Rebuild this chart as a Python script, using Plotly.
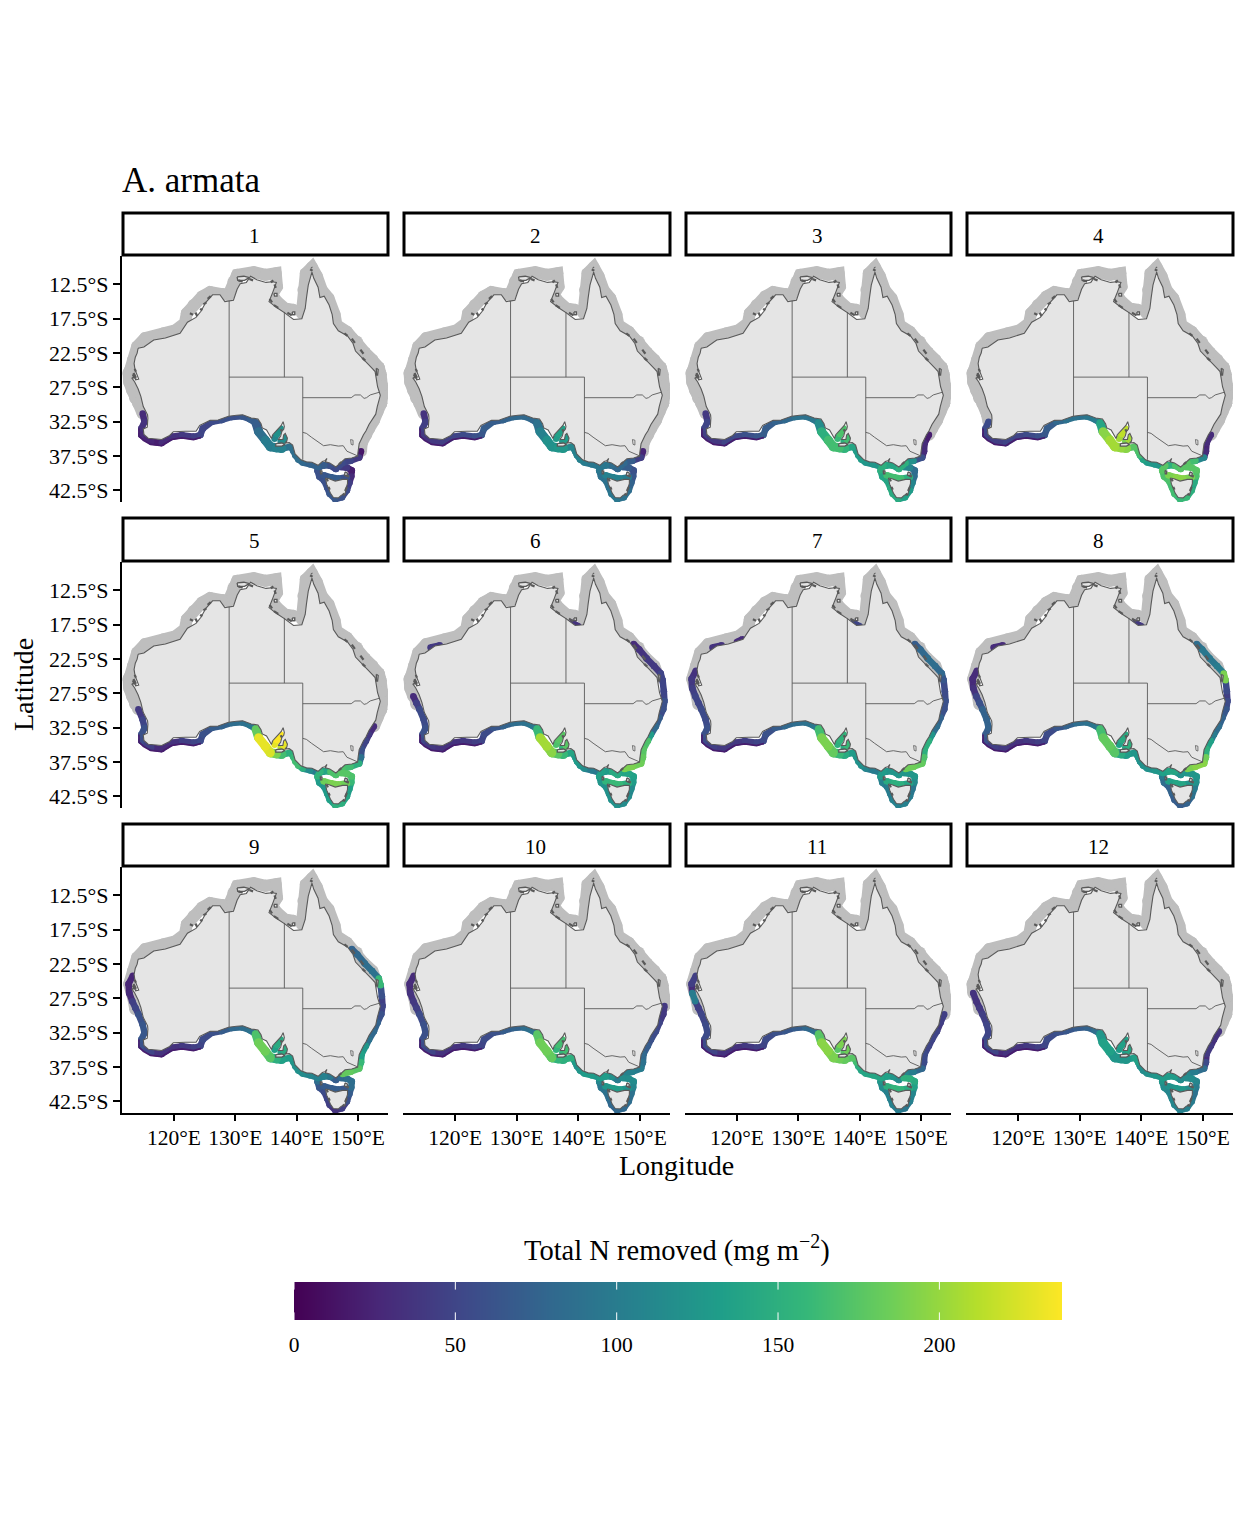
import plotly.graph_objects as go
from plotly.colors import sample_colorscale

W, H = 1248, 1536
NA = None
FONT = "Liberation Serif"

# Land outline (mainland, clockwise from NW Cape), Tasmania after the break
coast_lon = [114.15,114.0,113.7,113.5,113.65,113.9,114.25,113.75,113.6,113.15,113.6,114.15,114.6,115.0,115.7,115.75,115.65,115.0,115.1,115.8,116.6,118.0,119.3,119.9,121.9,123.6,124.2,125.9,127.2,128.9,130.2,131.2,132.6,133.7,134.2,134.4,135.1,135.6,135.9,136.1,136.9,137.5,137.8,138.0,137.9,137.6,137.4,137.0,137.75,137.9,138.15,138.5,138.4,138.1,138.8,139.35,139.75,140.7,141.6,142.5,143.5,144.2,144.6,144.95,144.7,145.4,146.4,146.9,147.9,149.0,149.95,150.0,150.2,150.9,151.3,151.8,152.9,153.15,153.65,153.2,153.0,152.8,152.4,151.3,150.8,149.6,149.2,148.3,146.8,146.0,145.8,145.3,144.5,143.8,143.5,142.8,142.5,141.9,141.6,141.4,140.85,139.5,138.0,136.8,135.5,135.6,136.0,136.7,136.0,135.0,133.5,132.5,131.8,130.8,130.3,129.7,128.3,127.5,126.3,125.2,124.4,123.6,122.2,121.0,118.6,116.7,115.1,114.15,NA,144.7,145.3,146.3,146.8,147.5,148.3,148.3,148.1,147.9,147.3,146.8,146.0,145.5,145.2,144.9,144.7]
coast_lat = [-21.8,-22.5,-23.1,-24.0,-24.9,-25.4,-26.3,-26.4,-25.9,-26.15,-26.7,-27.7,-28.8,-30.3,-31.5,-32.0,-33.3,-33.55,-34.35,-34.9,-35.0,-35.1,-34.5,-33.95,-33.9,-33.9,-33.05,-32.3,-32.25,-31.7,-31.55,-31.5,-31.95,-32.1,-32.8,-33.4,-33.7,-34.5,-34.95,-34.4,-33.7,-33.05,-32.5,-33.2,-33.6,-33.9,-34.6,-35.1,-35.1,-34.4,-34.2,-34.9,-35.35,-35.6,-35.55,-35.9,-37.2,-38.05,-38.35,-38.4,-38.85,-38.3,-38.2,-37.85,-38.35,-38.5,-39.1,-38.7,-37.9,-37.8,-37.5,-37.0,-35.7,-34.4,-33.85,-32.9,-31.4,-30.3,-28.65,-27.4,-25.9,-25.2,-24.8,-23.8,-23.2,-22.2,-21.1,-20.0,-19.25,-18.2,-16.9,-15.5,-14.2,-14.4,-12.9,-11.6,-10.7,-12.6,-14.5,-16.0,-17.5,-17.6,-16.6,-15.9,-15.0,-14.8,-13.9,-12.2,-12.1,-12.2,-11.8,-11.3,-12.2,-12.4,-13.2,-14.8,-15.0,-14.0,-14.0,-15.1,-16.4,-17.3,-18.0,-19.6,-20.3,-20.6,-21.6,-21.8,NA,-40.7,-40.8,-41.15,-41.0,-40.9,-40.9,-41.5,-42.1,-43.0,-43.2,-43.6,-43.55,-42.9,-42.2,-41.6,-40.7]

# Larger islands, drawn like the land
island_lon = [130.3,131.4,132.3,131.5,130.4,130.3,NA,136.3,136.8,136.8,136.4,136.3,NA,139.3,139.7,139.7,139.3,139.3,NA,136.6,137.6,138.1,137.6,136.6,136.6,NA,143.85,144.15,144.1,143.9,143.85,NA,147.9,148.3,148.2,147.8,147.9,NA,148.0,148.5,148.4,148.0,NA,153.0,153.3,153.2,153.0,153.0]
island_lat = [-11.4,-11.3,-11.5,-11.9,-11.9,-11.4,NA,-13.8,-13.8,-14.2,-14.2,-13.8,NA,-16.5,-16.5,-16.9,-16.9,-16.5,NA,-35.7,-35.6,-35.8,-36.05,-36.05,-35.7,NA,-39.6,-39.7,-40.1,-40.1,-39.6,NA,-39.8,-40.0,-40.4,-40.3,-39.8,NA,-40.4,-40.35,-40.55,-40.4,NA,-24.7,-24.9,-25.7,-25.7,-24.7]

# Short dark strokes where the coast is too broken to outline
clutter_lon = [124.6,124.3,NA,124.8,125.3,NA,125.5,126.0,NA,123.5,123.8,NA,122.6,123.1,NA,135.8,136.2,NA,136.4,136.6,NA,135.6,136.0,NA,136.3,137.0,NA,138.5,139.2,NA,149.0,149.5,NA,150.4,150.9,NA,150.7,151.2,NA,147.8,148.3,NA,113.4,113.8,NA,113.6,113.8,NA,113.3,113.6,NA,146.9,147.3,NA,147.5,147.9,NA,147.9,148.2,NA,145.2,145.4,NA,144.9,145.1,NA,130.5,131.2,NA,132.3,132.9,NA,142.2,142.6,NA,142.4,142.5,NA,137.4,137.6]
clutter_lat = [-16.3,-16.0,NA,-15.4,-15.1,NA,-14.6,-14.2,NA,-16.6,-17.1,NA,-16.7,-16.9,NA,-12.2,-11.9,NA,-12.5,-13.0,NA,-14.6,-15.1,NA,-15.5,-15.9,NA,-16.6,-17.0,NA,-20.4,-21.0,NA,-22.0,-22.6,NA,-23.2,-23.6,NA,-19.6,-20.0,NA,-25.4,-26.1,NA,-24.8,-25.2,NA,-25.6,-26.2,NA,-38.7,-38.4,NA,-43.0,-43.2,NA,-42.6,-42.0,NA,-42.0,-42.4,NA,-40.8,-41.2,NA,-11.9,-12.1,NA,-11.7,-11.9,NA,-10.3,-10.5,NA,-10.0,-10.1,NA,-33.6,-33.9]

# Capital territory and state lines
act_lon = [148.8,149.2,149.2,148.9,148.8]
act_lat = [-35.1,-35.2,-35.9,-35.8,-35.1]
border_lon = [129,129,NA,129,141,NA,138,138,NA,141,141,NA,141,148.9,149.5,150.4,151,151.4,152,153.5,NA,141,141.6,142.4,143.3,144.4,145.5,146.8,147.6,148.2,150.0]
border_lat = [-14.9,-31.7,NA,-26,-26,NA,-16.5,-26,NA,-26,-38.05,NA,-29,-29,-28.6,-28.6,-29.1,-29.0,-28.6,-28.2,NA,-34.05,-34.2,-34.75,-35.3,-36.0,-35.85,-36.05,-36.0,-36.8,-37.5]

# Always unsampled northern shelf, Fraser Is. round to the Shark Bay coast
north_lon = [153.06,152.35,150.9,149.8,148.2,146.5,146.2,145.2,144.1,143.3,142.5,141.5,141.1,141.1,140.85,NA,139.5,138.1,136.8,136.0,136.8,136.6,134.9,133.0,130.3,129.7,128.9,127.8,125.9,124.6,123.2,122.1,121.8,120.2,118.3,115.3,114.0,113.3,112.7,113.4,113.7]
north_lat = [-25.2,-23.5,-22.3,-20.8,-19.4,-18.4,-16.9,-14.5,-13.3,-11.3,-10.0,-10.9,-13.3,-15.7,-16.7,NA,-16.2,-16.0,-15.0,-14.0,-12.8,-10.85,-11.1,-10.7,-11.1,-12.1,-14.0,-13.9,-13.6,-14.25,-15.5,-16.7,-18.1,-19.2,-19.6,-20.3,-21.55,-23.5,-25.4,-27.6,-29.1]

# Low values along the outer edge of the south-west coast
fringe_lon = [114.3,114.3,115.0,116.2,118.0,119.6,121.3,123.2,124.4]
fringe_lat = [-33.5,-34.6,-35.2,-35.8,-36.0,-35.1,-34.85,-35.1,-34.8]
fringe_value = 18

# Sampled band: west 10, south 15, SA 8, Vic 8, NSW 9, Qld 6, Tas ring 14, Bass inner 4, gulfs 3+3, north spots 2+2+2
band_lon = [113.3,112.6,112.7,113.2,113.7,114.2,114.9,115.2,114.7,114.7,
            116.3,118.0,119.7,121.3,123.2,124.3,124.7,126.2,127.8,129.4,131.1,132.4,133.4,133.8,134.9,
            135.7,136.7,137.6,139.0,139.5,139.8,140.3,141.0,
            142.2,143.5,144.5,145.5,146.4,147.5,148.8,150.2,
            150.5,150.6,151.3,151.8,152.6,153.2,153.8,154.0,153.9,
            153.7,153.4,152.3,151.1,149.9,149.0,NA,
            143.9,143.4,143.7,144.5,145.0,145.4,146.3,147.4,148.2,148.6,148.9,149.0,148.2,147.2,NA,
            144.4,145.6,146.8,148.2,NA,
            136.4,136.8,137.4,NA,137.4,138.0,138.3,NA,
            139.0,140.0,NA,120.9,120.0,NA,116.0,117.5]
band_lat = [-24.2,-25.4,-26.7,-27.9,-28.85,-29.8,-31.3,-32.5,-33.5,-34.45,
            -35.4,-35.6,-34.7,-34.45,-34.7,-34.45,-33.5,-32.5,-32.25,-31.8,-31.7,-32.15,-32.75,-33.95,-35.2,
            -36.15,-36.3,-36.4,-36.15,-36.8,-37.4,-38.0,-38.45,
            -38.7,-39.1,-38.85,-38.9,-39.4,-38.5,-38.2,-37.7,
            -36.8,-35.6,-34.4,-33.5,-32.3,-31.0,-29.8,-28.6,-27.2,
            -25.6,-24.6,-23.5,-22.4,-21.1,-20.3,NA,
            -38.9,-39.6,-40.5,-41.1,-42.1,-43.0,-43.8,-43.5,-42.5,-41.4,-40.5,-39.6,-39.2,-39.1,NA,
            -40.3,-40.6,-40.8,-40.6,NA,
            -35.0,-34.3,-33.5,NA,-35.4,-35.2,-34.7,NA,
            -17.2,-17.7,NA,-19.6,-20.0,NA,-20.8,-20.5]

month_1 = [NA,NA,NA,NA,NA,NA,30,35,32,25, 22,30,36,40,45,50,52,55,60,62,65,68,72,85,100, 100,105,92,86,84,85,78,76, 75,70,62,52,55,50,40,15,
           NA,NA,NA,NA,NA,NA,NA,NA,NA, NA,NA,NA,NA,NA,NA, NA,
           60,58,62,60,62,65,60,55,45,30,20,18,40,45, NA, 65,70,60,50, NA, 112,118,120, NA, 110,115,105, NA, NA,NA, NA, NA,NA, NA, NA,NA]
month_2 = [NA,NA,NA,NA,NA,NA,35,45,40,35, 40,45,50,55,60,65,68,72,75,78,80,82,88,105,120, 120,125,110,105,105,105,100,95, 95,95,85,75,80,70,45,25,
           NA,NA,NA,NA,NA,NA,NA,NA,NA, NA,NA,NA,NA,NA,NA, NA,
           95,90,90,90,92,95,90,85,75,65,60,60,70,75, NA, 105,105,100,90, NA, 130,135,135, NA, 125,130,120, NA, NA,NA, NA, NA,NA, NA, NA,NA]
month_3 = [NA,NA,NA,NA,NA,NA,40,50,45,40, 42,50,55,60,65,68,70,75,82,88,92,95,115,150,165, 165,155,140,130,130,130,125,120, 125,135,140,140,150,120,60,30,
           30,20,NA,NA,NA,NA,NA,NA,NA, NA,NA,NA,NA,NA,NA, NA,
           150,140,140,140,145,145,135,130,110,85,80,85,110,130, NA, 165,165,150,135, NA, 160,170,165, NA, 150,165,150, NA, NA,NA, NA, NA,NA, NA, NA,NA]
month_4 = [NA,NA,NA,NA,NA,NA,NA,55,50,45, 45,50,50,55,60,65,70,80,88,92,95,100,140,195,205, 200,195,175,170,165,140,130,125, 125,130,150,170,175,165,110,30,
           25,30,NA,NA,NA,NA,NA,NA,NA, NA,NA,NA,NA,NA,NA, NA,
           175,170,170,165,165,160,160,150,140,145,170,175,175,175, NA, 190,195,190,180, NA, 205,215,210, NA, 190,205,190, NA, NA,NA, NA, NA,NA, NA, NA,NA]
month_5 = [NA,NA,NA,NA,NA,40,50,60,55,45, 30,30,35,45,50,55,60,68,75,85,90,95,180,230,225, 190,165,150,150,160,165,150,115, 100,110,140,170,170,165,150,90,
           60,50,40,30,NA,NA,NA,NA,NA, NA,NA,NA,NA,NA,NA, NA,
           155,130,125,125,130,135,150,140,130,135,160,170,175,175, NA, 185,190,185,175, NA, 230,238,235, NA, 215,230,210, NA, NA,NA, NA, NA,NA, NA, NA,NA]
month_6 = [NA,NA,NA,30,45,55,55,60,50,40, 35,35,35,40,45,50,55,65,75,85,90,95,160,205,195, 175,160,140,130,130,125,115,100, 95,105,130,145,140,190,185,180,
           175,170,130,80,70,55,60,50,50, 50,40,40,35,30,NA, NA,
           135,125,120,120,120,120,115,115,110,115,130,135,140,145, NA, 155,160,150,130, NA, 170,175,170, NA, 155,175,160, NA, 35,30, NA, NA,NA, NA, 40,40]
month_7 = [35,40,45,50,50,55,55,60,55,45, 40,40,40,45,50,55,60,68,78,85,90,95,165,190,180, 160,145,130,125,120,120,110,100, 100,110,125,125,125,185,180,170,
           150,150,125,85,75,60,60,55,55, 65,80,85,80,70,50, NA,
           130,105,100,100,100,105,105,100,95,95,115,125,125,130, NA, 145,150,140,120, NA, 150,155,155, NA, 145,160,150, NA, 50,40, NA, 30,30, NA, 35,35]
month_8 = [30,30,35,50,60,75,75,70,60,45, 40,35,35,40,45,50,55,65,75,85,90,95,165,180,175, 145,130,125,125,120,120,120,120, 125,135,140,120,115,190,195,185,
           150,135,100,85,75,65,55,45,55, 190,100,95,95,85,60, NA,
           100,85,75,75,70,70,70,75,90,100,120,125,125,125, NA, 135,140,125,105, NA, 135,145,150, NA, 140,150,135, NA, 40,35, NA, NA,NA, NA, 30,30]
month_9 = [25,25,30,45,50,60,65,65,60,50, 35,35,35,40,45,50,55,60,70,80,85,90,170,185,175, 150,135,130,125,120,120,115,110, 105,105,95,70,60,180,175,160,
           135,125,90,80,75,60,50,45,60, 160,90,85,80,75,NA, NA,
           85,65,55,50,45,35,35,45,60,70,85,85,80,75, NA, 70,70,65,60, NA, 135,145,145, NA, 135,145,125, NA, NA,NA, NA, NA,NA, NA, NA,NA]
month_10 = [30,30,35,40,45,55,60,60,55,50, 35,35,35,40,45,50,55,60,70,75,85,90,175,185,180, 155,150,150,130,120,120,125,130, 125,130,120,100,95,105,100,90,
            80,70,60,55,50,40,40,NA,NA, NA,NA,NA,NA,NA,NA, NA,
            110,95,90,85,80,75,80,80,85,90,110,115,115,110, NA, 125,130,120,100, NA, 155,165,165, NA, 155,165,145, NA, NA,NA, NA, NA,NA, NA, NA,NA]
month_11 = [45,30,100,45,45,50,55,55,55,50, 35,35,35,40,45,50,55,60,65,70,78,85,175,195,190, 185,180,175,165,150,140,140,140, 140,135,125,115,110,100,80,55,
            55,50,45,50,40,45,NA,NA,NA, NA,NA,NA,NA,NA,NA, NA,
            125,115,105,105,105,100,95,95,105,110,135,145,150,140, NA, 150,155,145,125, NA, 175,190,185, NA, 175,185,165, NA, NA,NA, NA, NA,NA, NA, NA,NA]
month_12 = [NA,NA,35,35,40,45,50,50,55,50, 30,35,35,40,45,50,55,60,65,70,75,85,125,135,125, 125,125,130,135,120,115,115,120, 125,130,130,115,110,100,85,55,
            30,40,30,35,NA,NA,NA,NA,NA, NA,NA,NA,NA,NA,NA, NA,
            125,115,110,110,110,105,105,100,90,85,100,110,115,115, NA, 120,125,115,95, NA, 130,135,130, NA, 130,140,125, NA, NA,NA, NA, NA,NA, NA, NA,NA]
months = [month_1, month_2, month_3, month_4, month_5, month_6, month_7, month_8, month_9, month_10, month_11, month_12]

lon_ticks = [120, 130, 140, 150]
lon_labels = ["120°E", "130°E", "140°E", "150°E"]
lat_ticks = [-12.5, -17.5, -22.5, -27.5, -32.5, -37.5, -42.5]
lat_labels = ["12.5°S", "17.5°S", "22.5°S", "27.5°S", "32.5°S", "37.5°S", "42.5°S"]
legend_ticks = [0, 50, 100, 150, 200]
legend_stops = [0, 50, 100, 150, 200, 238]
legend_max = 238

# Panel boxes in pixels
col_px = [(122, 388), (403, 670), (685, 951), (966, 1233)]
row_px = [(256, 502), (562, 808), (867, 1113)]
strip_px = [(213, 255), (518, 561), (824, 866)]
bar_px = (294, 1062, 1282, 1320)


def pad_x(p):
    return p / W


def pad_y(p):
    return 1 - p / H


def viridis(v):
    return sample_colorscale("Viridis", min(v, legend_max) / legend_max)[0]


fig = go.Figure()
layout = {}
shapes = []
annotations = []

for i, vals in enumerate(months):
    row, col = divmod(i, 4)
    suffix = "" if i == 0 else str(i + 1)
    xa, ya = "x" + suffix, "y" + suffix

    def line(x, y, color, width, markers=False, fill=None, fillcolor=None):
        fig.add_trace(go.Scatter(x=x, y=y, xaxis=xa, yaxis=ya, hoverinfo="skip", showlegend=False,
                                 mode="lines+markers" if markers else "lines",
                                 line=dict(color=color, width=width),
                                 marker=dict(color=color, size=width),
                                 fill=fill, fillcolor=fillcolor, connectgaps=False))

    # grey where there is no value, coloured segments grouped by rounded value
    # (the band off Eyre Peninsula is wider than the rest)
    grey_x, grey_y = list(north_lon), list(north_lat)
    groups = {}
    for k in range(len(band_lon) - 1):
        if band_lon[k] is None or band_lon[k + 1] is None:
            continue
        seg_x = [band_lon[k], band_lon[k + 1], None]
        seg_y = [band_lat[k], band_lat[k + 1], None]
        v = vals[k]
        if v is None:
            if k < 56:
                grey_x = grey_x + [None] + seg_x
                grey_y = grey_y + [None] + seg_y
            continue
        key = (9 if 22 <= k <= 26 else 6.5, 5 * round(v / 5))
        groups.setdefault(key, ([], []))
        groups[key][0].extend(seg_x)
        groups[key][1].extend(seg_y)
    line(grey_x, grey_y, "#BEBEBE", 12, markers=True)
    for key in sorted(groups):
        line(groups[key][0], groups[key][1], viridis(key[1]), key[0], markers=True)
    line(fringe_lon, fringe_lat, viridis(fringe_value), 1.6)

    line(coast_lon, coast_lat, "#595959", 1.1, fill="toself", fillcolor="#E5E5E5")
    line(island_lon, island_lat, "#595959", 1.3, fill="toself", fillcolor="#E5E5E5")
    line(clutter_lon, clutter_lat, "#595959", 2.2)
    line(act_lon, act_lat, "#595959", 0.8)
    line(border_lon, border_lat, "#595959", 0.9)

    x0, x1 = col_px[col]
    y0, y1 = row_px[row]
    layout["xaxis" + suffix] = dict(
        domain=[pad_x(x0), pad_x(x1)], range=[111.53, 154.9], anchor=ya, showgrid=False, zeroline=False,
        automargin=False, showline=row == 2, linecolor="black", linewidth=2,
        ticks="outside" if row == 2 else "", ticklen=6, tickwidth=1.5, tickcolor="black",
        ticklabelstandoff=-2 if row == 2 else 0,
        tickvals=lon_ticks if row == 2 else [], ticktext=lon_labels if row == 2 else [],
        tickangle=0, tickfont=dict(family=FONT, size=21.5, color="black"))
    layout["yaxis" + suffix] = dict(
        domain=[pad_y(y1), pad_y(y0)], range=[-44.2, -8.35], anchor=xa, showgrid=False, zeroline=False,
        automargin=False, showline=col == 0, linecolor="black", linewidth=2,
        ticks="outside" if col == 0 else "", ticklen=7, tickwidth=1.5, tickcolor="black",
        tickvals=lat_ticks if col == 0 else [], ticktext=lat_labels if col == 0 else [],
        tickfont=dict(family=FONT, size=22, color="black"))

    sy0, sy1 = strip_px[row]
    shapes.append(dict(type="rect", xref="paper", yref="paper", x0=pad_x(x0 + 1), x1=pad_x(x1), y0=pad_y(sy1),
                       y1=pad_y(sy0), line=dict(color="black", width=3), fillcolor="white"))
    annotations.append(dict(text=str(i + 1), xref="paper", yref="paper", x=pad_x((x0 + x1) / 2 - 1),
                            y=pad_y((sy0 + sy1) / 2 + 1.5), showarrow=False, xanchor="center", yanchor="middle",
                            font=dict(family=FONT, size=21, color="black")))

# colour bar as a smoothed heatmap on its own axis, so the white ticks can sit on top
fig.add_trace(go.Heatmap(x=legend_stops, y=[0, 1], z=[legend_stops, legend_stops], xaxis="x13", yaxis="y13",
                         zmin=0, zmax=legend_max, colorscale="Viridis", zsmooth="best", showscale=False,
                         hoverinfo="skip"))
layout["xaxis13"] = dict(domain=[pad_x(bar_px[0]), pad_x(bar_px[1])], range=[0, legend_max], anchor="y13",
                         automargin=False, showgrid=False, zeroline=False, showline=False, tickvals=legend_ticks,
                         ticks="outside", ticklen=5, tickcolor="rgba(0,0,0,0)", tickangle=0,
                         tickfont=dict(family=FONT, size=21.5, color="black"))
layout["yaxis13"] = dict(domain=[pad_y(bar_px[3]), pad_y(bar_px[2])], range=[0, 1], anchor="x13", visible=False,
                         automargin=False)
for t in legend_ticks:
    for a, b in ((0, 0.2), (0.8, 1)):
        shapes.append(dict(type="line", xref="x13", yref="y13", x0=t, x1=t, y0=a, y1=b,
                           line=dict(color="white", width=1)))


def label(text, x, y, size, anchor="center", angle=0):
    annotations.append(dict(text=text, xref="paper", yref="paper", x=pad_x(x), y=pad_y(y), showarrow=False,
                            xanchor=anchor, yanchor="middle", textangle=angle,
                            font=dict(family=FONT, size=size, color="black")))


label("A. armata", 120, 180, 35, anchor="left")
label("Longitude", 676, 1165, 28)
label("Latitude", 23, 685, 28, angle=-90)
label("Total N removed (mg m<sup>−2</sup>)", 677, 1248, 28.5)

fig.update_layout(width=W, height=H, margin=dict(l=0, r=0, t=0, b=0), plot_bgcolor="white", paper_bgcolor="white",
                  shapes=shapes, annotations=annotations, showlegend=False, **layout)
fig.write_html("out.html", config={"displayModeBar": False}, post_script="document.body.style.margin = '0';")
